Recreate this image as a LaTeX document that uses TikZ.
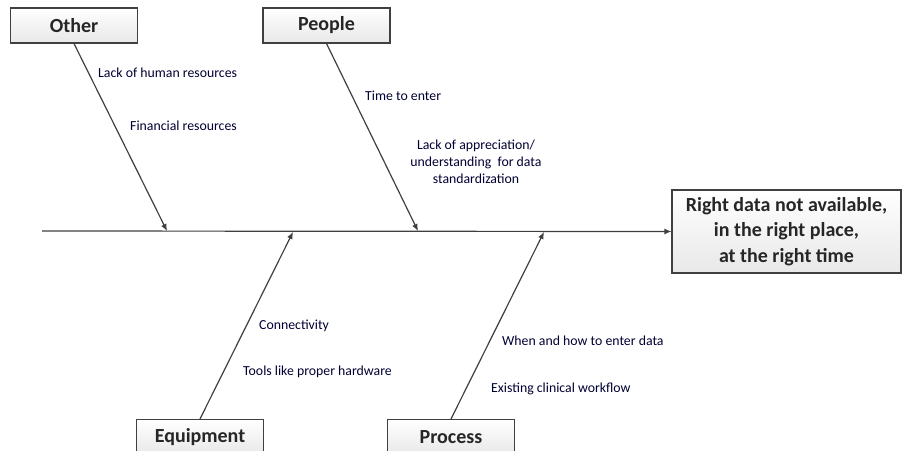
\documentclass[tikz,border=0pt]{standalone}
\usepackage{fontspec}
\setmainfont{Carlito}
\usetikzlibrary{arrows.meta}

\tikzset{
  catbox/.style={draw=black!75,line width=1.1pt,top color=white,bottom color=black!9,
    minimum width=127pt,minimum height=35pt,inner sep=0pt,
    font=\fontsize{20}{24}\selectfont\bfseries,text=black!85},
  cause/.style={anchor=west,inner sep=0pt,font=\fontsize{13.8}{17}\selectfont,text=black!80!blue},
  bone/.style={draw=black!75,line width=1.2pt,-{Latex[length=7pt,width=6pt]}}
}

\begin{document}
\begin{tikzpicture}[x=1pt,y=-1pt]

    \clip (0,0) rectangle (904,450);
    \fill[white] (0,0) rectangle (904,450);

    % categories
    \node[catbox] (other) at (74,25.5) {Other};
    \node[catbox] (people) at (326.5,25.5) {People};
    \node[catbox] (equip) at (200,437) {Equipment};
    \node[catbox] (proc) at (451,437) {Process};

    % effect
    \node[catbox,minimum width=229pt,minimum height=83pt,align=center,
          font=\fontsize{20}{25.5}\selectfont\bfseries] (effect) at (786.5,231.5)
          {Right data not available,\\in the right place,\\at the right time};

    % spine
    \coordinate (tail) at (42,231);
    \coordinate (s1) at (167,231);
    \coordinate (s2) at (418,231);
    \coordinate (s3) at (293,232);
    \coordinate (s4) at (544,232);
    \path (tail) edge[bone] (effect.west);

    \path (other.south) edge[bone] (s1);
    \path (people.south) edge[bone] (s2);
    \path (equip.north) edge[bone] (s3);
    \path (proc.north) edge[bone] (s4);

    % causes
    \node[cause] (hum) at (98,73) {Lack of human resources};
    \node[cause] (fin) at (130,126) {Financial resources};
    \node[cause] (time) at (365,96) {Time to enter};
    \node[cause,anchor=center,align=center] (appr) at (476,162)
          {Lack of appreciation/\\understanding\ \ for data\\standardization};
    \node[cause] (conn) at (259,326) {Connectivity};
    \node[cause] (tools) at (243,372) {Tools like proper hardware};
    \node[cause] (when) at (502,341) {When and how to enter data};
    \node[cause] (flow) at (491,389) {Existing clinical workflow};

  \end{tikzpicture}
\end{document}
